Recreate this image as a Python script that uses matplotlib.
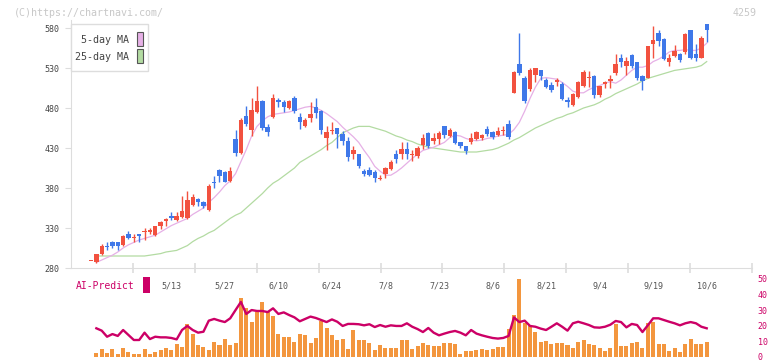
import numpy as np
import matplotlib.pyplot as plt
from matplotlib.patches import Rectangle

W, H = 772, 361

# daily candles (index 0 .. 115), last day = 10/6
opens = [289, 287, 298, 307, 313, 312, 309, 322, 318, 323,
         325, 325, 321, 332, 339, 345, 340, 344, 342, 359,
         366, 363, 352, 387, 402, 400, 389, 441, 424, 470,
         452, 475, 489, 456, 469, 490, 487, 480, 492, 469,
         457, 468, 481, 476, 443, 451, 455, 448, 439, 422,
         422, 401, 403, 400, 391, 397, 404, 422, 423, 429,
         421, 420, 434, 449, 439, 441, 457, 445, 450, 437,
         432, 437, 441, 442, 454, 450, 446, 451, 460, 499,
         535, 517, 504, 521, 527, 515, 509, 512, 510, 490,
         484, 494, 507, 518, 520, 496, 510, 514, 524, 543,
         532, 546, 537, 520, 518, 560, 574, 566, 538, 545,
         548, 550, 577, 547, 543, 585]
highs = [289, 298, 310, 313, 314, 313, 321, 326, 322, 323,
         330, 330, 333, 339, 343, 350, 350, 370, 376, 372,
         368, 364, 385, 395, 404, 401, 406, 453, 468, 483,
         492, 507, 490, 460, 497, 492, 490, 490, 495, 474,
         468, 487, 492, 478, 457, 462, 455, 451, 444, 432,
         423, 404, 406, 403, 396, 406, 415, 427, 437, 437,
         427, 432, 448, 450, 449, 451, 458, 455, 451, 438,
         433, 449, 451, 447, 457, 451, 456, 457, 465, 526,
         574, 520, 530, 530, 528, 518, 512, 517, 513, 494,
         499, 514, 528, 526, 521, 508, 514, 521, 548, 548,
         544, 547, 538, 521, 558, 582, 577, 567, 547, 559,
         549, 574, 578, 560, 570, 585]
lows = [289, 286, 296, 302, 305, 302, 308, 316, 313, 313,
        315, 323, 320, 329, 333, 340, 339, 343, 341, 358,
        357, 355, 351, 380, 388, 387, 388, 420, 423, 457,
        445, 474, 453, 445, 468, 481, 475, 479, 474, 454,
        456, 463, 467, 447, 427, 447, 430, 434, 414, 416,
        405, 395, 395, 388, 390, 393, 402, 411, 416, 416,
        414, 418, 429, 430, 435, 435, 442, 444, 435, 430,
        423, 435, 440, 440, 445, 441, 445, 446, 441, 499,
        521, 486, 501, 512, 515, 505, 500, 508, 490, 481,
        482, 493, 506, 506, 493, 494, 505, 505, 521, 531,
        521, 530, 515, 502, 517, 543, 558, 540, 532, 544,
        537, 548, 541, 539, 542, 563]
closes = [289, 297, 307, 306, 308, 308, 320, 318, 319, 320,
          326, 328, 332, 337, 341, 342, 345, 351, 365, 369,
          362, 358, 382, 386, 395, 387, 401, 424, 465, 460,
          477, 489, 455, 450, 492, 487, 481, 489, 476, 462,
          465, 473, 474, 452, 450, 452, 447, 439, 419, 427,
          407, 398, 396, 392, 393, 405, 413, 416, 429, 422,
          422, 430, 443, 432, 443, 449, 446, 452, 436, 432,
          426, 443, 450, 446, 448, 444, 451, 452, 444, 525,
          524, 489, 527, 530, 520, 506, 502, 515, 491, 487,
          497, 512, 525, 519, 496, 507, 513, 516, 535, 537,
          539, 532, 518, 514, 557, 565, 564, 541, 542, 551,
          540, 573, 542, 543, 567, 577]

# moving averages and lower panel, index 1 .. 115
ma5 = [287, 290, 293, 296, 300, 305, 309, 312, 315, 317,
       319, 321, 325, 329, 333, 336, 339, 342, 347, 351,
       355, 362, 368, 375, 383, 389, 398, 413, 428, 445,
       457, 464, 469, 472, 473, 474, 475, 477, 479, 481,
       482, 480, 477, 473, 468, 463, 456, 450, 444, 437,
       427, 418, 407, 401, 396, 396, 400, 405, 411, 417,
       422, 427, 429, 431, 434, 437, 443, 446, 445, 442,
       440, 439, 440, 442, 443, 445, 446, 447, 453, 462,
       476, 492, 506, 517, 518, 517, 516, 512, 507, 501,
       499, 499, 503, 506, 508, 511, 513, 511, 515, 521,
       527, 531, 531, 533, 538, 541, 545, 550, 552, 552,
       553, 552, 552, 555, 561]
ma25 = [295, 295, 295, 295, 295, 295, 295, 295, 295, 295,
        296, 297, 298, 300, 301, 302, 305, 308, 313, 317,
        320, 324, 327, 332, 337, 342, 346, 349, 355, 361,
        367, 373, 380, 386, 390, 395, 400, 405, 412, 416,
        420, 424, 428, 433, 437, 443, 449, 452, 455, 457,
        457, 457, 455, 453, 451, 448, 445, 443, 440, 438,
        435, 433, 431, 430, 429, 428, 427, 426, 425, 425,
        425, 425, 426, 427, 428, 430, 433, 436, 440, 443,
        447, 451, 455, 458, 461, 464, 467, 469, 472, 474,
        477, 480, 482, 484, 487, 491, 494, 498, 501, 504,
        507, 510, 514, 517, 519, 521, 523, 525, 527, 528,
        529, 530, 531, 533, 538]
vol = [2.8, 5.1, 2.6, 5.1, 1.9, 5.8, 3.2, 1.9, 1.9, 5.1,
       1.9, 3.2, 4.5, 5.8, 4.5, 8.3, 6.4, 21.2, 14.7, 7.7,
       6.4, 4.5, 9.6, 7.7, 11.5, 7.7, 9.0, 37.8, 31.4, 22.4,
       28.8, 35.3, 28.8, 26.3, 14.7, 12.8, 12.8, 9.6, 14.7, 14.1,
       9.0, 12.2, 23.1, 18.6, 14.1, 10.9, 11.5, 5.1, 17.3, 10.9,
       10.9, 9.0, 4.5, 7.7, 5.8, 5.8, 5.8, 10.9, 10.9, 5.1,
       7.1, 9.0, 7.7, 7.1, 7.1, 9.0, 9.0, 8.3, 1.9, 3.8,
       3.8, 4.5, 5.1, 4.5, 5.1, 6.4, 6.4, 17.9, 26.9, 50.0,
       21.8, 20.5, 16.0, 9.6, 10.3, 8.3, 9.0, 9.0, 7.7, 5.8,
       9.6, 10.9, 8.3, 7.7, 5.8, 3.8, 5.8, 21.2, 7.1, 7.1,
       9.0, 9.6, 5.8, 21.8, 22.4, 8.3, 8.3, 3.8, 5.8, 3.2,
       8.3, 11.5, 8.3, 8.3, 9.6]
ai_predict = [18.4, 16.9, 13.0, 14.7, 13.5, 17.3, 14.1, 10.9, 10.9, 15.6,
              11.5, 13.0, 12.6, 12.6, 12.2, 11.3, 17.3, 19.9, 17.3, 15.6,
              16.2, 23.3, 24.4, 23.3, 22.4, 24.8, 30.1, 35.3, 27.6, 30.1,
              29.5, 29.5, 28.8, 31.2, 27.6, 28.6, 26.9, 25.4, 22.9, 24.4,
              25.9, 25.0, 23.7, 22.4, 24.1, 22.6, 19.9, 21.2, 21.2, 21.0,
              20.3, 21.0, 19.2, 20.5, 19.4, 20.3, 19.9, 19.9, 21.6, 19.4,
              17.9, 16.0, 18.6, 15.6, 13.9, 15.0, 16.0, 16.7, 15.6, 13.9,
              17.3, 15.0, 13.9, 13.0, 12.2, 11.8, 12.2, 13.5, 25.4, 22.4,
              23.3, 19.9, 19.4, 18.2, 17.3, 19.4, 21.6, 19.4, 16.9, 21.6,
              22.6, 21.6, 20.5, 19.0, 18.8, 19.4, 20.7, 23.1, 22.4, 19.0,
              21.2, 20.5, 16.0, 20.3, 24.8, 24.8, 23.7, 22.6, 21.6, 20.3,
              21.6, 22.4, 21.6, 19.4, 18.4]

date_labels = ["5/13", "5/27", "6/10", "6/24", "7/8", "7/23",
               "8/6", "8/21", "9/4", "9/19", "10/6"]
date_idx = [15, 25, 35, 45, 55, 65, 75, 85, 95, 105, 115]
price_ticks = [280, 330, 380, 430, 480, 530, 580]
ai_ticks = [0, 10, 20, 30, 40, 50]

RED = "#f2513f"
BLUE = "#3f78e9"
PINK = "#e6b0e6"
GREEN = "#b3dba2"
ORANGE = "#f3963e"
CRIM = "#cc0066"
GRID = "#dddddd"
MONO = "DejaVu Sans Mono"


def fx(x):
    return x / W


def fy(y):
    return 1 - y / H


fig = plt.figure(figsize=(W / 100, H / 100), dpi=100)

# pixel layout of the two panels
step = 5.354
x0 = -(91 - 71) / step
x1 = (752 - 91) / step

ax = fig.add_axes([fx(71), fy(268), fx(752) - fx(71), fy(20) - fy(268)])
ax.set_xlim(x0, x1)
ax.set_ylim(280, 280 + 248 / 0.8)

idx = np.arange(len(opens))
o = np.array(opens, float)
c = np.array(closes, float)
up = c >= o
col = np.where(up, RED, BLUE)

ma_x = idx[1:]
ax.plot(ma_x, ma25, color=GREEN, lw=0.9, zorder=2)
ax.plot(ma_x, ma5, color=PINK, lw=0.9, zorder=2)

ax.vlines(idx, lows, highs, colors=col, lw=1.0, zorder=3)
body_lo = np.minimum(o, c)
body_h = np.maximum(np.abs(c - o), 1.1)
ax.bar(idx, body_h, bottom=body_lo, width=0.82, color=col, lw=0, zorder=4)

for s in ["top", "right"]:
    ax.spines[s].set_visible(False)
for s in ["left", "bottom"]:
    ax.spines[s].set_color(GRID)
ax.set_yticks(price_ticks)
ax.set_yticklabels([str(v) for v in price_ticks], fontsize=6, family=MONO, color="#444444")
ax.tick_params(axis="y", length=4, color=GRID, pad=4)
ax.set_xticks([x0 + (x1 - x0) * k / 11 for k in range(1, 12)])
ax.set_xticklabels([])
ax.tick_params(axis="x", direction="inout", length=7, color=GRID, width=1.2)

# lower panel
ax2 = fig.add_axes([fx(71), fy(357), fx(752) - fx(71), fy(279) - fy(357)])
ax2.set_xlim(x0, x1)
ax2.set_ylim(0, 50)
ax2.bar(ma_x, vol, width=0.75, color=ORANGE, lw=0, zorder=2)
ax2.plot(ma_x, ai_predict, color=CRIM, lw=1.7, zorder=3)
for s in ax2.spines.values():
    s.set_visible(False)
ax2.set_xticks([])
ax2.yaxis.tick_right()
ax2.set_yticks(ai_ticks)
ax2.set_yticklabels([str(v) for v in ai_ticks], fontsize=6, family=MONO, color=CRIM)
ax2.tick_params(axis="y", length=0, pad=4)

for i, lab in zip(date_idx, date_labels):
    fig.text(fx(91 + i * step), fy(286), lab, ha="center", va="center",
             fontsize=6, family=MONO, color="#555555")

fig.text(fx(76), fy(286), "AI-Predict", ha="left", va="center",
         fontsize=7, family=MONO, color=CRIM)
fig.add_artist(Rectangle((fx(143), fy(293)), fx(7), fy(0) - fy(16),
                         transform=fig.transFigure, color=CRIM, lw=0))

# legend box
fig.add_artist(Rectangle((fx(70.5), fy(71)), fx(77.5), fy(0) - fy(47),
                         transform=fig.transFigure, facecolor="white",
                         edgecolor=GRID, lw=1, zorder=10))
fig.text(fx(129), fy(40), "5-day MA", ha="right", va="center",
         fontsize=7.2, family=MONO, color="#444444", zorder=11)
fig.text(fx(129), fy(57), "25-day MA", ha="right", va="center",
         fontsize=7.2, family=MONO, color="#444444", zorder=11)
fig.add_artist(Rectangle((fx(137), fy(46)), fx(5.5), fy(0) - fy(14.5),
                         transform=fig.transFigure, facecolor=PINK,
                         edgecolor="#555555", lw=0.8, zorder=11))
fig.add_artist(Rectangle((fx(137), fy(63)), fx(5.5), fy(0) - fy(14.5),
                         transform=fig.transFigure, facecolor=GREEN,
                         edgecolor="#555555", lw=0.8, zorder=11))

fig.text(fx(14), fy(12.5), "(C)https://chartnavi.com/", ha="left", va="center",
         fontsize=7.2, family=MONO, color="#c8c8c8")
fig.text(fx(757), fy(12.5), "4259", ha="right", va="center",
         fontsize=7.2, family=MONO, color="#c8c8c8")

fig.savefig("out.png", dpi=100)
